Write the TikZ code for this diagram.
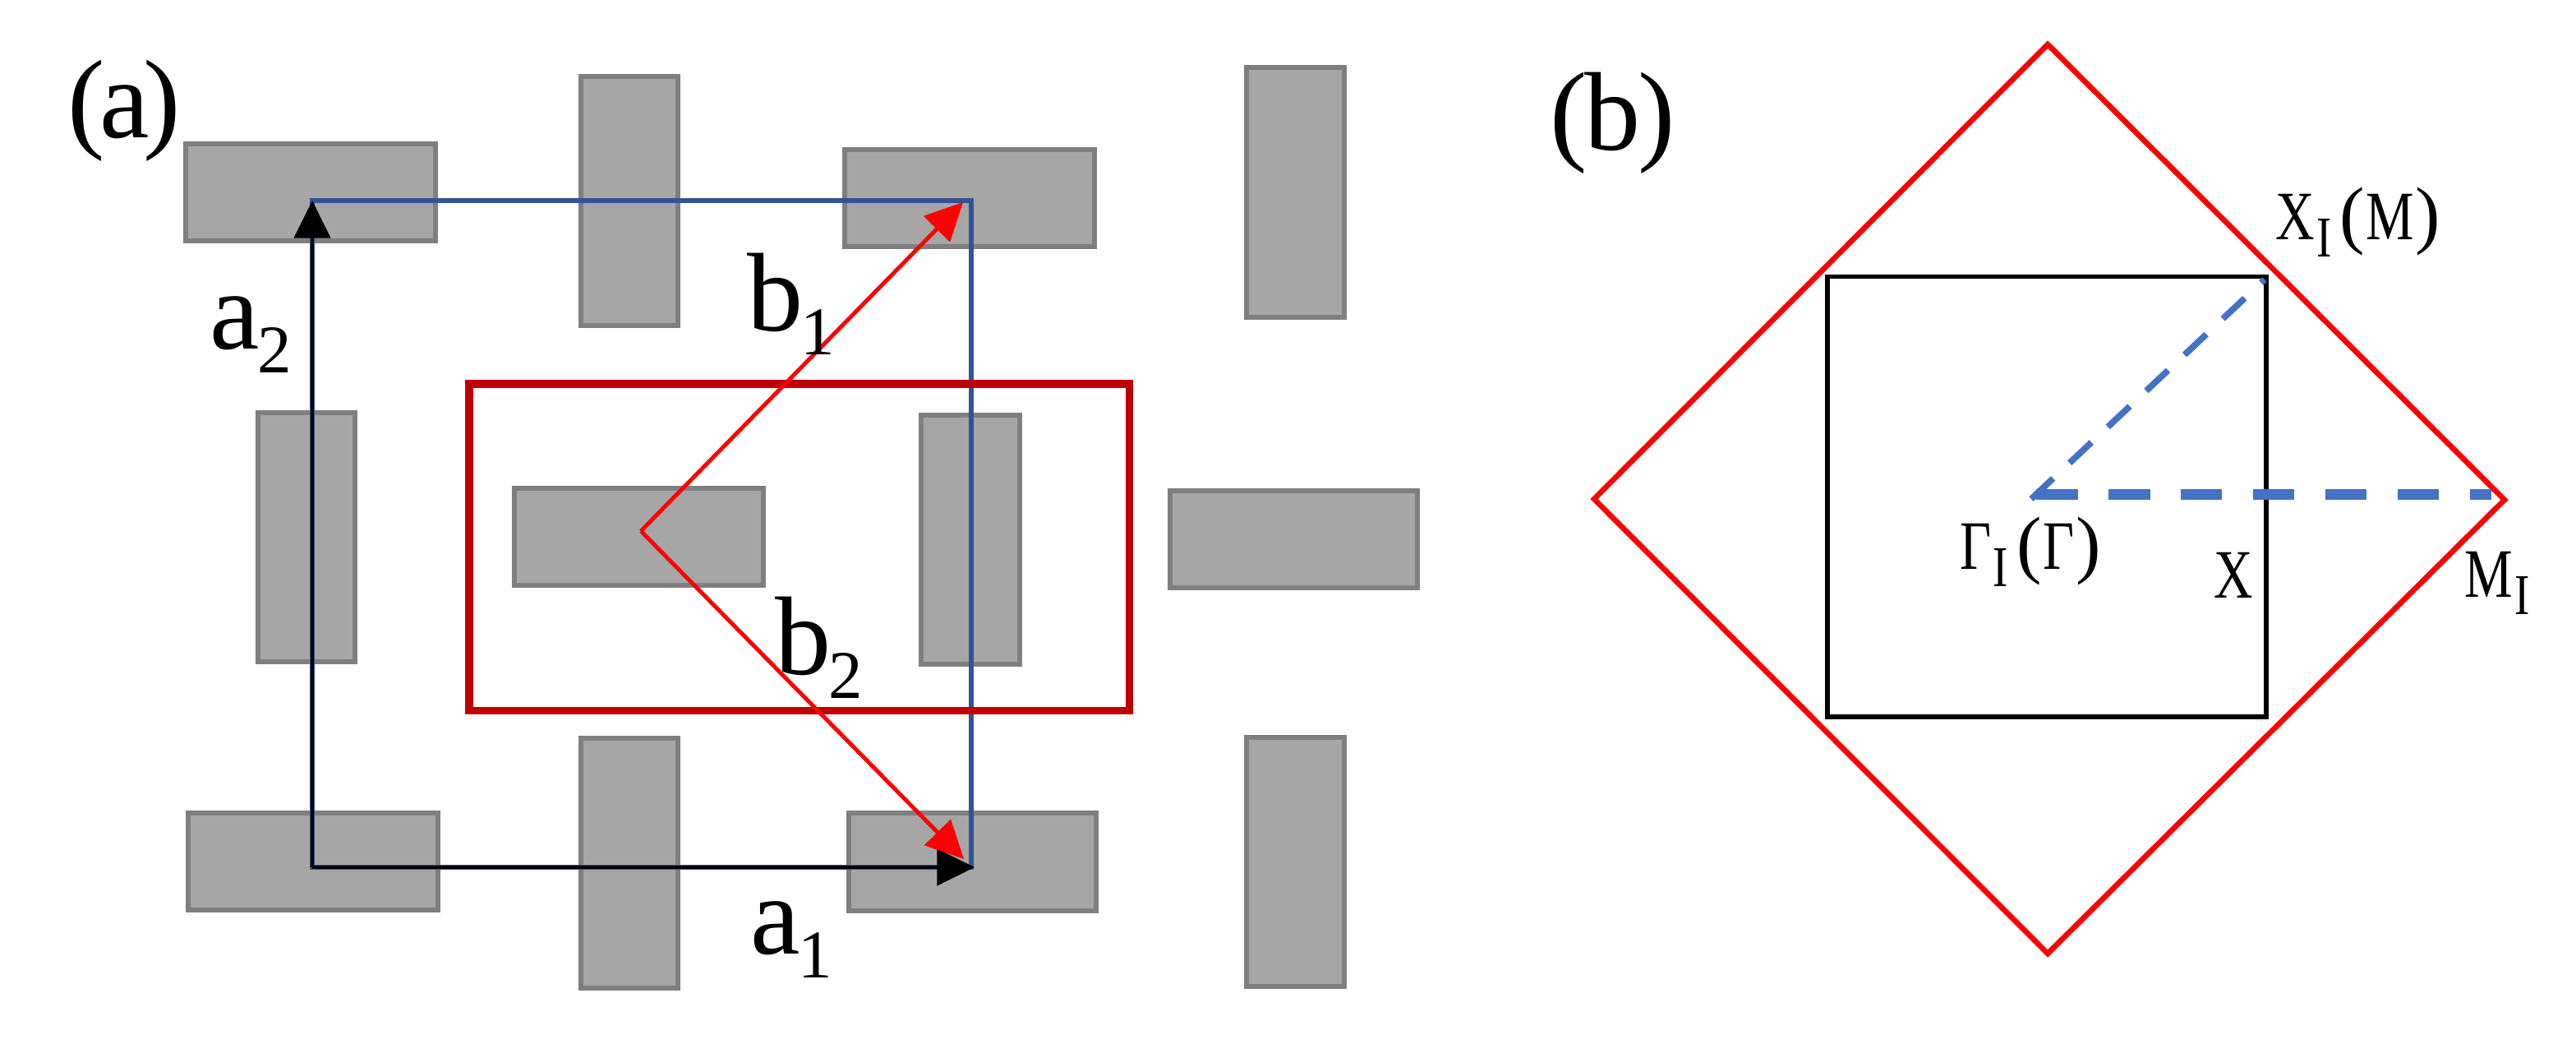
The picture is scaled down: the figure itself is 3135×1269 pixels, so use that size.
\documentclass[tikz,border=0pt]{standalone}
\usepackage{fontspec}
\usepackage{xcolor}
\usetikzlibrary{arrows.meta}
\setmainfont{Liberation Serif}
\newfontfamily\narrowfont[FakeStretch=0.78]{Liberation Serif}

\definecolor{tilefill}{HTML}{A6A6A6}
\definecolor{tileline}{HTML}{7F7F7F}
\definecolor{cellred}{HTML}{C00000}
\definecolor{cellblue}{HTML}{2F5597}
\definecolor{pathblue}{HTML}{4472C4}

% big label with subscript, small label with subscript, small label in brackets
\newcommand{\biglab}[2]{\fontsize{38.7}{40}\selectfont #1\kern-0.8pt\raisebox{-8.5pt}{\fontsize{23.6}{25}\selectfont #2}}
\newcommand{\smalllab}[2]{\fontsize{24}{26}\selectfont\narrowfont #1\kern0.6pt\raisebox{-6pt}{\fontsize{20}{22}\selectfont #2}}
\newcommand{\brlab}[1]{\kern2.8pt\fontsize{26}{28}\selectfont\rmfamily (\kern0.5pt\fontsize{24}{26}\selectfont\narrowfont #1\kern0.5pt\fontsize{26}{28}\selectfont\rmfamily )}

\tikzset{
  tile/.style={draw=tileline, fill=tilefill, line width=1.5pt},
  vec/.style={-{Triangle[length=13pt,width=12.5pt]}, line width=1.4pt},
  lab/.style={inner sep=0pt, anchor=base west}
}

\begin{document}
\begin{tikzpicture}[x=0.01cm, y=-0.01cm]
  \useasboundingbox (0,0) rectangle (3135,1269);

  % Corners of the cell
  \coordinate (ll) at (380,1055);
  \coordinate (ur) at (1182,244);
  \coordinate (ul) at (380,244);
  \coordinate (lr) at (1182,1055);
  \coordinate (atip) at (1186,1055);
  \coordinate (bstart) at (780,646);
  \coordinate (bone) at (1172,246);
  \coordinate (btwo) at (1173,1045);

  % Grey tiles
  \foreach \xa/\ya/\xb/\yb in {226/175/530/293, 1028/182/1332/300, 626/594/929/712,
      1424/597/1725/715, 229/989/533/1107, 1033/989/1334/1108,
      707/93/825/396, 1517/82/1636/386, 314/502/432/805,
      1121/505/1241/808, 707/898/825/1202, 1517/897/1636/1200}
    \draw[tile] (\xa,\ya) rectangle (\xb,\yb);

  % Blue cell and red cell
  \draw[cellblue, line width=1.9pt] (ll) rectangle (ur);
  \draw[cellred, line width=2.7pt] (571,467) rectangle (1374.5,864.5);

  % Lattice vectors
  \draw[vec, black] (ll) -- (atip);
  \draw[vec, black] (ll) -- (ul);
  \draw[vec, red] (bstart) -- (bone);
  \draw[vec, red] (bstart) -- (btwo);

  % Labels of panel (a)
  \node[lab] (alabel) at (82,167) {\fontsize{38.7}{40}\selectfont (\kern-2pt a\kern-2pt)};
  \node[lab] (aone) at (913,1160) {\biglab{a}{1}};
  \node[lab] (atwo) at (255,424) {\biglab{a}{2}};
  \node[lab] (bonelab) at (909,402) {\biglab{b}{1}};
  \node[lab] (btwolab) at (943,820) {\biglab{b}{2}};

  % Panel (b): the two zones
  \draw[black, line width=1.7pt] (2224,336.5) rectangle (2758,872);
  \draw[red, line width=1.9pt] (1940,607) -- (2492,54) -- (3048,608) -- (2492,1160) -- cycle;

  % Dashed path
  \coordinate (gam) at (2478,601);
  \coordinate (mpt) at (3032,601);
  \coordinate (gamb) at (2472,607);
  \coordinate (xpt) at (2756,340);
  \draw[pathblue, line width=3.7pt, dash pattern=on 14.4pt off 10.6pt] (gam) -- (mpt);
  \draw[pathblue, line width=2.2pt, dash pattern=on 10.4pt off 7.8pt] (gamb) -- (xpt);

  % Labels of panel (b)
  \node[lab] (blabel) at (1886,182) {\fontsize{38.7}{40}\selectfont (\kern-1pt b\kern-1pt)};
  \node[lab] (xlabel) at (2769,291) {\smalllab{X}{I}\brlab{M}};
  \node[lab] (glabel) at (2385,692) {\smalllab{Γ}{I}\brlab{Γ}};
  \node[lab] (xonly) at (2694,727) {\fontsize{24}{26}\selectfont\narrowfont X};
  \node[lab] (mlabel) at (2999,726) {\smalllab{M}{I}};
\end{tikzpicture}
\end{document}
